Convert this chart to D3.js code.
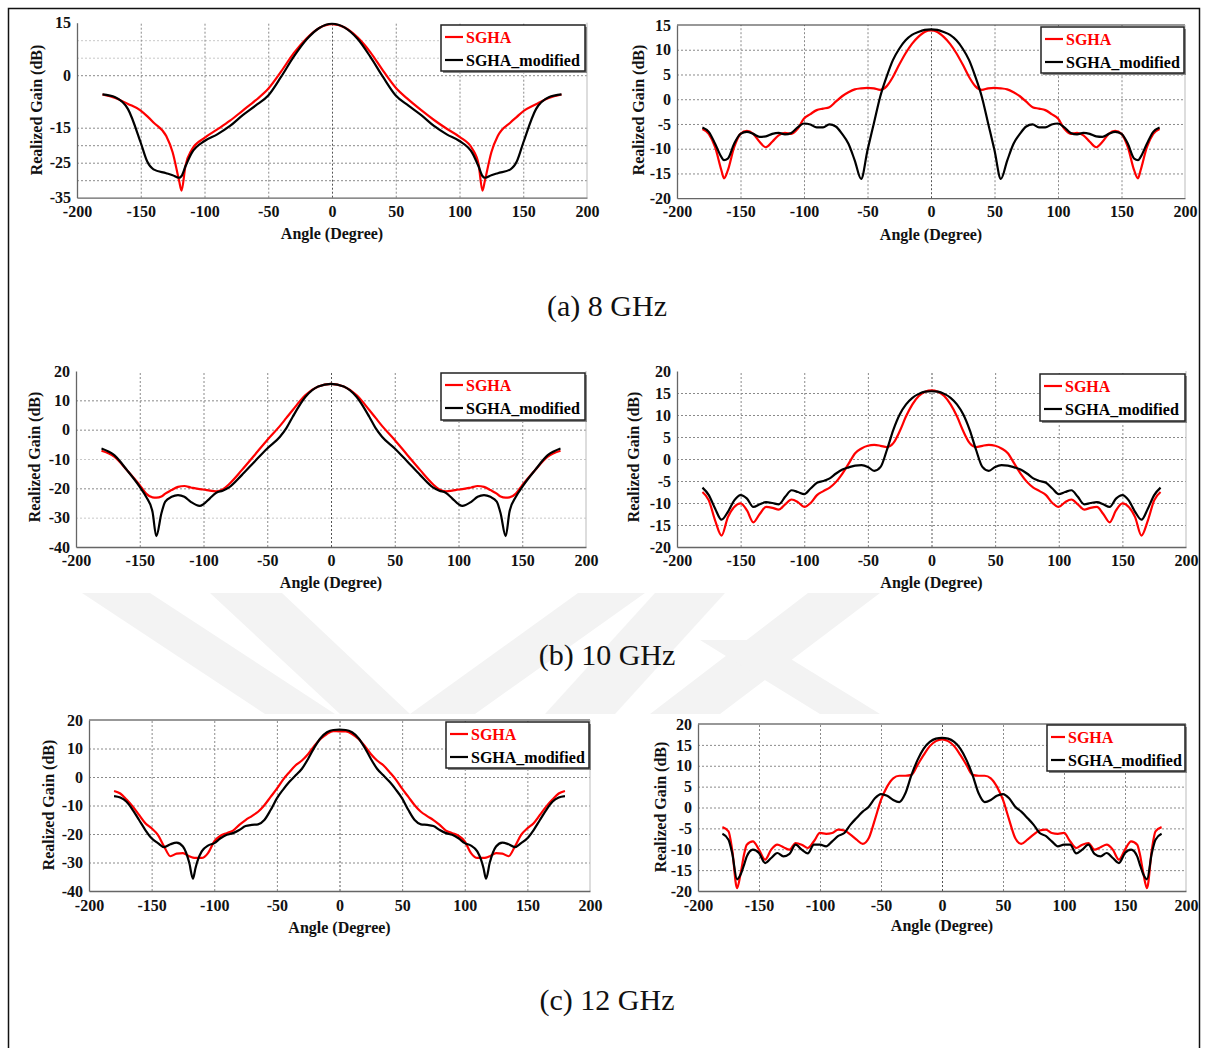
<!DOCTYPE html>
<html><head><meta charset="utf-8">
<script src="https://cdn.jsdelivr.net/npm/d3@7/dist/d3.min.js"></script>
<style>body{margin:0;background:#fff}svg{display:block}</style>
</head><body><svg id="c" width="1209" height="1048"></svg>
<script>
// ---------- DATA ----------
const seriesNames = ["SGHA", "SGHA_modified"];
const seriesColors = ["#ff0000", "#000000"];
const xTicks = [-200, -150, -100, -50, 0, 50, 100, 150, 200];
const captions = ["(a) 8 GHz", "(b) 10 GHz", "(c) 12 GHz"];

// 8 GHz, left
const ang8a = [-180,-170,-160,-150,-145,-140,-130,-125,-120,-118,-115,-110,-100,-90,-80,-70,-60,-50,-40,-30,-20,-10,0,10,20,30,40,50,60,70,80,90,100,110,115,118,120,125,130,140,145,150,160,170,180];
const sgha8a = [-5.5,-6.5,-8.2,-10.1,-11.7,-13.5,-17.4,-22,-30,-33,-26,-21.3,-17.9,-15.5,-13,-10.1,-7.2,-3.9,1,6.3,10.5,13.5,14.6,13.6,10.8,6.6,1.3,-3.6,-7,-10,-12.8,-15.3,-17.6,-21,-25.5,-33,-30,-22,-17.4,-13.5,-11.9,-10.3,-8.3,-6.5,-5.5];
const mod8a = [-5.5,-6.3,-9.7,-19.3,-24.6,-26.9,-28,-28.6,-29.3,-28.8,-26.1,-22.2,-18.8,-16.9,-14.5,-11.4,-8.7,-5.8,-0.5,5.3,10.2,13.5,14.7,13.6,10.4,5.3,-0.5,-5.8,-8.7,-11.4,-14.5,-16.9,-18.8,-22.2,-26.1,-28.8,-29.3,-28.6,-28,-26.9,-24.6,-19.3,-9.7,-6.3,-5.5];
const yTicks8a = [15, 0, -15, -25, -35];

// 8 GHz, right
const ang8b = [-180,-175,-170,-165,-163,-160,-155,-150,-145,-140,-135,-130,-125,-120,-115,-110,-105,-100,-95,-90,-85,-80,-75,-70,-65,-60,-55,-50,-45,-40,-35,-30,-25,-20,-15,-10,-5,0,5,10,15,20,25,30,35,40,45,50,55,60,65,70,75,80,85,90,95,100,105,110,115,120,125,130,135,140,145,150,155,160,163,165,170,175,180];
const sgha8b = [-6,-7,-9.7,-14.4,-16,-14.4,-9.7,-7,-6.4,-7,-8.6,-9.7,-8.6,-7.3,-6.8,-7,-6,-3.9,-3,-2.2,-1.9,-1.6,-0.5,0.6,1.4,2,2.2,2.3,2.2,1.9,2.6,4.5,7,9.3,11.2,12.6,13.6,13.9,13.6,12.6,11.2,9.3,7,4.5,2.6,1.9,2.2,2.3,2.2,2,1.4,0.6,-0.5,-1.6,-1.9,-2.2,-3,-3.9,-6,-7,-6.8,-7.3,-8.6,-9.7,-8.6,-7,-6.4,-7,-9.7,-14.4,-16,-14.4,-9.7,-7,-6];
const mod8b = [-5.7,-6.6,-9,-11.7,-12.3,-12,-9,-7,-6.6,-7,-7.6,-7.5,-7,-6.8,-7.1,-6.8,-5.7,-4.9,-5.1,-5.7,-5.7,-5.1,-5.5,-7,-9,-12.4,-16.1,-10.3,-4.9,0.5,4.5,7.9,10.2,11.9,13,13.6,14,14.1,14,13.6,13,11.9,10.2,7.9,4.5,0.5,-4.9,-10.3,-16.1,-12.4,-9,-7,-5.5,-5.1,-5.7,-5.7,-5.1,-4.9,-5.7,-6.8,-7.1,-6.8,-7,-7.5,-7.6,-7,-6.6,-7,-9,-12,-12.3,-11.7,-9,-6.6,-5.7];
const yTicks8b = [15, 10, 5, 0, -5, -10, -15, -20];

// 10 GHz, left
const ang10a = [-180,-170,-160,-150,-145,-140,-137,-133,-130,-125,-120,-115,-110,-103,-100,-95,-90,-85,-80,-70,-60,-50,-40,-35,-30,-20,-10,0,10,20,30,35,40,50,60,70,80,85,90,95,100,103,110,115,120,125,130,133,137,140,145,150,160,170,180];
const sgha10a = [-7.2,-9.2,-13.8,-18.9,-21.8,-23.1,-23.2,-22.8,-21.8,-20.6,-19.5,-19.2,-19.7,-20.3,-20.4,-20.8,-21,-20.4,-18.6,-13.8,-8.7,-3.5,1.3,4,6.7,11.8,14.7,15.6,14.7,11.8,6.7,4,1.3,-3.5,-8.7,-13.8,-18.6,-20.4,-21,-20.8,-20.4,-20.3,-19.7,-19.2,-19.5,-20.6,-21.8,-22.8,-23.2,-23.1,-21.8,-18.9,-13.8,-9.2,-7.2];
const mod10a = [-6.4,-8.7,-13.8,-19.5,-22.9,-28,-36.3,-28.5,-24.5,-22.9,-22.3,-22.9,-24.6,-26,-25.4,-23.4,-21.5,-20.8,-19.7,-15.5,-10.9,-6.4,-2.4,0.5,4.4,11.2,14.7,15.6,14.7,11.2,4.4,0.5,-2.4,-6.4,-10.9,-15.5,-19.7,-20.8,-21.5,-23.4,-25.4,-26,-24.6,-22.9,-22.3,-22.9,-24.5,-28.5,-36.3,-28,-22.9,-19.5,-13.8,-8.7,-6.4];
const yTicks10a = [20, 10, 0, -10, -20, -30, -40];

// 10 GHz, right
const ang10b = [-180,-175,-170,-165,-160,-155,-150,-145,-140,-135,-130,-125,-120,-115,-110,-105,-100,-95,-90,-85,-80,-75,-70,-65,-60,-55,-50,-45,-40,-35,-30,-25,-20,-15,-10,-5,0,5,10,15,20,25,30,35,40,45,50,55,60,65,70,75,80,85,90,95,100,105,110,115,120,125,130,135,140,145,150,155,160,165,170,175,180];
const sgha10b = [-7.5,-9.4,-14,-17.4,-13.2,-10.9,-10.1,-11.7,-14.4,-12.5,-10.9,-11.1,-11.5,-10.3,-9.2,-9.8,-10.9,-10,-8.2,-7.3,-6.5,-5.2,-3.3,-1,1.3,2.4,3,3.2,3,2.7,3.6,6.3,9.7,12.4,14.3,15.3,15.6,15.3,14.3,12.4,9.7,6.3,3.6,2.7,3,3.2,3,2.4,1.3,-1,-3.3,-5.2,-6.5,-7.3,-8.2,-10,-10.9,-9.8,-9.2,-10.3,-11.5,-11.1,-10.9,-12.5,-14.4,-11.7,-10.1,-10.9,-13.2,-17.4,-14,-9.4,-7.5];
const mod10b = [-6.5,-8.2,-11.3,-13.8,-12,-9.4,-8.2,-9,-10.9,-10.3,-9.8,-10,-10.3,-8.6,-7.1,-7.5,-8,-6.7,-5.4,-5,-4.4,-3.3,-2.4,-1.9,-1.5,-1.4,-1.8,-2.7,-1.8,2.1,6.6,10.1,12.4,13.9,14.8,15.3,15.4,15.3,14.8,13.9,12.4,10.1,6.6,2.1,-1.8,-2.7,-1.8,-1.4,-1.5,-1.9,-2.4,-3.3,-4.4,-5,-5.4,-6.7,-8,-7.5,-7.1,-8.6,-10.3,-10,-9.8,-10.3,-10.9,-9,-8.2,-9.4,-12,-13.8,-11.3,-8.2,-6.5];
const yTicks10b = [20, 15, 10, 5, 0, -5, -10, -15, -20];

// 12 GHz, left
const ang12a = [-180,-175,-170,-165,-160,-155,-150,-145,-140,-135,-130,-125,-120,-117,-115,-113,-110,-105,-100,-95,-90,-85,-80,-75,-70,-65,-60,-55,-50,-45,-40,-35,-30,-25,-20,-15,-10,-5,0,5,10,15,20,25,30,35,40,45,50,55,60,65,70,75,80,85,90,95,100,105,110,113,115,117,120,125,130,135,140,145,150,155,160,165,170,175,180];
const sgha12a = [-4.9,-5.8,-7.9,-10.4,-13.3,-16.2,-18,-20.3,-24.4,-27.8,-26.9,-26.7,-27.8,-28.3,-28.4,-28.4,-28.4,-26.7,-22.6,-20.6,-19.7,-18.8,-16.8,-15.1,-13.7,-12.2,-9.9,-7,-4.1,-0.9,1.7,4.1,5.8,8.1,11,13.4,15.1,16.1,16,16,15.1,13.4,11,8.1,5.8,4.1,1.7,-0.9,-4.1,-7,-9.9,-12.2,-13.7,-15.1,-16.8,-18.8,-19.7,-20.6,-22.6,-26.7,-28.4,-28.4,-28.4,-28.3,-27.8,-26.7,-26.9,-27.8,-24.4,-20.3,-18,-16.2,-13.3,-10.4,-7.9,-5.8,-4.9];
const mod12a = [-6.7,-7.2,-8.7,-11.6,-15.1,-18.6,-21.5,-23.2,-24.6,-23.6,-23,-24.4,-30,-35.7,-32,-29,-26.1,-24.1,-23.2,-21.5,-20.3,-19.7,-18.6,-17.2,-16.8,-16.6,-15.1,-11.6,-7.5,-4.4,-1.7,0.6,2.9,6.4,10.4,13.7,15.7,16.5,16.6,16.5,15.7,13.7,10.4,6.4,2.9,0.6,-1.7,-4.4,-7.5,-11.6,-15.1,-16.6,-16.8,-17.2,-18.6,-19.7,-20.3,-21.5,-23.2,-24.1,-26.1,-29,-32,-35.7,-30,-24.4,-23,-23.6,-24.6,-23.2,-21.5,-18.6,-15.1,-11.6,-8.7,-7.2,-6.7];
const yTicks12a = [20, 10, 0, -10, -20, -30, -40];

// 12 GHz, right
const ang12b = [-180,-175,-172,-168,-165,-162,-160,-155,-150,-145,-140,-135,-130,-125,-120,-115,-110,-105,-100,-95,-90,-85,-80,-75,-70,-65,-60,-55,-50,-45,-40,-35,-30,-25,-20,-15,-10,-5,0,5,10,15,20,25,30,35,40,45,50,55,60,65,70,75,80,85,90,95,100,105,110,115,120,125,130,135,140,145,150,155,160,162,165,168,172,175,180];
const sgha12b = [-4.7,-5.7,-10.1,-19.3,-15.7,-10.9,-8.9,-8.1,-10.1,-12.5,-10.1,-8.9,-9.5,-10.1,-8.5,-8.9,-9.7,-8.1,-6.1,-6.3,-6.1,-5.3,-5.5,-6.5,-7.7,-8.7,-7.3,-2.9,1.8,5,7,7.6,7.6,7.8,10.2,12.6,14.7,15.9,16.3,15.9,14.7,12.6,10.2,7.8,7.6,7.6,7,5,1.8,-2.9,-7.3,-8.7,-7.7,-6.5,-5.5,-5.3,-6.1,-6.3,-6.1,-8.1,-9.7,-8.9,-8.5,-10.1,-9.5,-8.9,-10.1,-12.5,-10.1,-8.1,-8.9,-10.9,-15.7,-19.3,-10.1,-5.7,-4.7];
const mod12b = [-6.3,-7.7,-10.9,-17.2,-16,-13.5,-11.7,-10.1,-10.9,-13.3,-12.1,-10.9,-11.7,-11.1,-8.9,-10.1,-11,-8.9,-8.9,-9.3,-8.1,-6.8,-6.1,-4.1,-2.5,-1,0.2,2.2,3.2,2.8,1.8,1.3,3.4,7.8,11.4,14.1,15.7,16.5,16.7,16.5,15.7,14.1,11.4,7.8,3.4,1.3,1.8,2.8,3.2,2.2,0.2,-1,-2.5,-4.1,-6.1,-6.8,-8.1,-9.3,-8.9,-8.9,-11,-10.1,-8.9,-11.1,-11.7,-10.9,-12.1,-13.3,-10.9,-10.1,-11.7,-13.5,-16,-17.2,-10.9,-7.7,-6.3];
const yTicks12b = [20, 15, 10, 5, 0, -5, -10, -15, -20];

// ---------- DRAW ----------
const svg = d3.select("#c");
const FONT = "'Liberation Serif','Times New Roman',serif";
const fmt = d => String(d);   // plain hyphen-minus as in the original

// watermark (faint background logo)
const wm = [
  [[82,593],[150,593],[335,714],[265,714]],
  [[210,593],[282,593],[410,714],[340,714]],
  [[410,714],[475,714],[645,593],[578,593]],
  [[655,593],[725,593],[615,714],[545,714]],
  [[808,593],[880,593],[720,714],[650,714]],
  [[700,640],[760,640],[880,714],[820,714]]
];
svg.append("g").selectAll("polygon").data(wm).join("polygon")
  .attr("points", d => d.map(p => p.join(",")).join(" "))
  .attr("fill", "#f3f3f3");

// white panel backgrounds
[[14,360,588,233],[621,360,576,233],[14,714,592,226],[625,714,572,226]].forEach(r =>
  svg.append("rect").attr("x", r[0]).attr("y", r[1]).attr("width", r[2]).attr("height", r[3]).attr("fill", "#fff"));

// outer frame
svg.append("rect").attr("x", 8.5).attr("y", 8.5).attr("width", 1191).attr("height", 1060)
  .attr("fill", "none").attr("stroke", "#111").attr("stroke-width", 1.5);

function panel(c) {
  const g = svg.append("g");
  const x = d3.scaleLinear().domain([-200, 200]).range([c.x0, c.x1]);
  const y = d3.scaleLinear().domain([c.yTicks[c.yTicks.length - 1], c.yTicks[0]]).range([c.yb, c.yt]);

  // horizontal grid
  g.append("g").attr("transform", `translate(${c.x0},0)`)
    .call(d3.axisLeft(y).tickValues(c.hGrid).tickSize(-(c.x1 - c.x0)).tickFormat(""))
    .call(s => s.select(".domain").remove())
    .call(s => s.selectAll("line").attr("stroke", d => (c.hLight && c.hLight.includes(d)) ? "#c8c8c8" : "#8a8a8a")
      .attr("stroke-dasharray", "2,2").attr("stroke-width", 1));
  // vertical grid
  g.append("g").attr("transform", `translate(0,${c.yb})`)
    .call(d3.axisBottom(x).tickValues([-150, -100, -50, 0, 50, 100, 150]).tickSize(-(c.yb - c.yt)).tickFormat(""))
    .call(s => s.select(".domain").remove())
    .call(s => s.selectAll("line").attr("stroke", d => d === 0 ? "#555" : "#8a8a8a")
      .attr("stroke-dasharray", "2,2").attr("stroke-width", 1));

  // frame: top and right
  if (c.topLine) g.append("line").attr("x1", c.x0).attr("x2", c.x1).attr("y1", c.yt).attr("y2", c.yt)
    .attr("stroke", "#333").attr("stroke-width", 1.2);
  g.append("line").attr("x1", c.x1).attr("x2", c.x1).attr("y1", c.yt).attr("y2", c.yb)
    .attr("stroke", "#bbb").attr("stroke-width", 1);

  // axes
  const ax = g.append("g").attr("transform", `translate(0,${c.yb})`)
    .call(d3.axisBottom(x).tickValues(xTicks).tickFormat(fmt).tickSize(0).tickSizeOuter(0).tickPadding(c.xPad));
  const ay = g.append("g").attr("transform", `translate(${c.x0},0)`)
    .call(d3.axisLeft(y).tickValues(c.yTicks).tickFormat(fmt).tickSize(0).tickSizeOuter(0).tickPadding(6));
  [ax, ay].forEach(a => {
    a.attr("font-family", FONT).attr("font-size", 16).attr("font-weight", "bold");
    a.select(".domain").attr("stroke", "#666").attr("stroke-width", 1.3);
    a.selectAll("text").attr("fill", "#111");
  });

  // series
  const line = (ang) => d3.line().x((d, i) => x(ang[i])).y(d => y(d)).curve(d3.curveMonotoneX);
  c.series.forEach((s, k) => {
    g.append("path").datum(s).attr("d", line(c.ang)).attr("fill", "none")
      .attr("stroke", seriesColors[k]).attr("stroke-width", 2.2).attr("stroke-linejoin", "round");
  });

  // axis titles
  g.append("text").attr("transform", `translate(${c.ylx},${c.yly}) rotate(-90)`)
    .attr("text-anchor", "middle").attr("dy", "0.35em")
    .attr("font-family", FONT).attr("font-size", 16).attr("font-weight", "bold").attr("fill", "#111")
    .text("Realized Gain (dB)");
  g.append("text").attr("x", (c.x0 + c.x1) / 2).attr("y", c.xly)
    .attr("text-anchor", "middle")
    .attr("font-family", FONT).attr("font-size", 16).attr("font-weight", "bold").attr("fill", "#111")
    .text("Angle (Degree)");

  // legend
  const L = c.leg;
  const sw = L[4] || 18;
  const lg = g.append("g");
  lg.append("rect").attr("x", L[0] + 2).attr("y", L[1] + 2).attr("width", L[2]).attr("height", L[3]).attr("fill", "#888");
  lg.append("rect").attr("x", L[0]).attr("y", L[1]).attr("width", L[2]).attr("height", L[3])
    .attr("fill", "#fff").attr("stroke", "#222").attr("stroke-width", 1.5);
  seriesNames.forEach((n, k) => {
    const yy = L[1] + 12 + k * 23;
    lg.append("line").attr("x1", L[0] + 4).attr("x2", L[0] + 4 + sw).attr("y1", yy).attr("y2", yy)
      .attr("stroke", seriesColors[k]).attr("stroke-width", 2.2);
    lg.append("text").attr("x", L[0] + 7 + sw).attr("y", yy + 5.5)
      .attr("font-family", FONT).attr("font-size", 16).attr("font-weight", "bold")
      .attr("fill", seriesColors[k]).text(n);
  });
}

panel({ x0: 77, x1: 587, yt: 22.7, yb: 197.7, yTicks: yTicks8a,
  hGrid: [10, 5, 0, -15, -20, -25, -30], hLight: [10, 5], topLine: false, xPad: 8,
  ang: ang8a, series: [sgha8a, mod8a], leg: [441, 25, 144, 46], ylx: 36, yly: 110, xly: 239 });
panel({ x0: 677, x1: 1185, yt: 25, yb: 198.2, yTicks: yTicks8b,
  hGrid: [10, 5, 0, -5, -10, -15], topLine: true, xPad: 7,
  ang: ang8b, series: [sgha8b, mod8b], leg: [1041, 27, 143, 46], ylx: 638, yly: 110, xly: 240 });
panel({ x0: 76, x1: 586, yt: 371, yb: 547, yTicks: yTicks10a,
  hGrid: [10, 0, -10, -20, -30], hLight: [-10, -30], topLine: false, xPad: 8,
  ang: ang10a, series: [sgha10a, mod10a], leg: [441, 373, 144, 47], ylx: 34, yly: 457, xly: 588 });
panel({ x0: 677, x1: 1186, yt: 371, yb: 547, yTicks: yTicks10b,
  hGrid: [15, 10, 5, 0, -5, -10, -15], topLine: false, xPad: 8,
  ang: ang10b, series: [sgha10b, mod10b], leg: [1040, 374, 145, 47], ylx: 633, yly: 457, xly: 588 });
panel({ x0: 89, x1: 590, yt: 720, yb: 891, yTicks: yTicks12a,
  hGrid: [10, 0, -10, -20, -30], topLine: true, xPad: 9,
  ang: ang12a, series: [sgha12a, mod12a], leg: [446, 722, 143, 46], ylx: 48, yly: 805, xly: 933 });
panel({ x0: 698, x1: 1186, yt: 724, yb: 891, yTicks: yTicks12b,
  hGrid: [15, 10, 5, 0, -5, -10, -15], topLine: true, xPad: 9,
  ang: ang12b, series: [sgha12b, mod12b], leg: [1047, 725, 138, 46, 14], ylx: 660, yly: 807, xly: 931 });

// captions
[316, 665, 1010].forEach((yy, i) => {
  svg.append("text").attr("x", 607).attr("y", yy).attr("text-anchor", "middle")
    .attr("font-family", FONT).attr("font-size", 30).attr("fill", "#111").text(captions[i]);
});
</script>
</body></html>
